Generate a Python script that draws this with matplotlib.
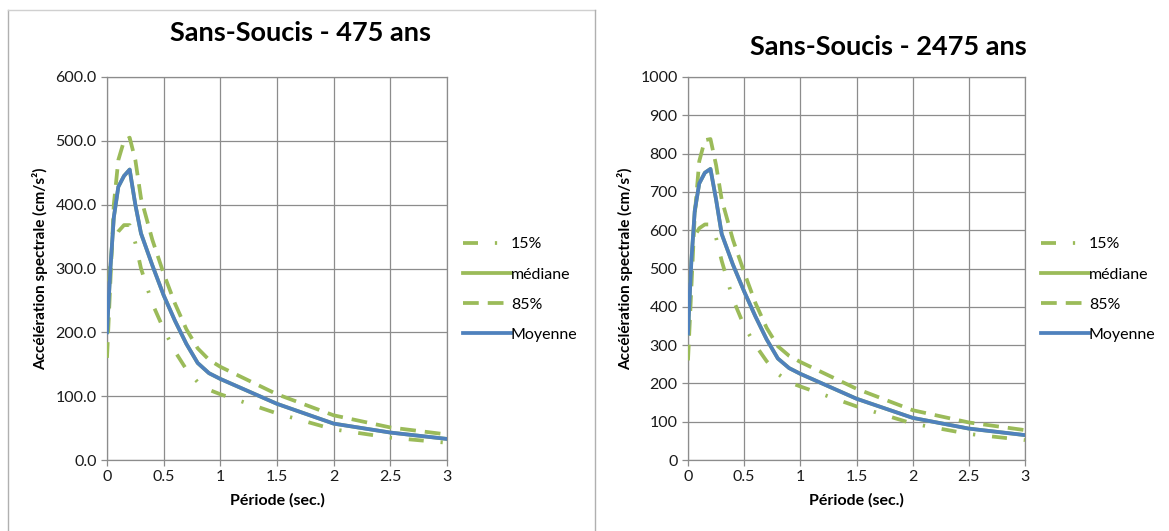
import matplotlib
matplotlib.use("Agg")
import matplotlib.pyplot as plt
from matplotlib.lines import Line2D

plt.rcParams['font.family'] = ['Lato', 'DejaVu Sans']

GREEN = '#9BBB59'
BLUE = '#4F81BD'
GRID = '#8c8c8c'

# ---- data: 475 ans ----
t_475 = [0.0, 0.03, 0.06, 0.1, 0.15, 0.2, 0.25, 0.3, 0.4, 0.5, 0.6, 0.7, 0.8, 0.9, 1.0, 1.5, 2.0, 2.5, 3.0]
moy_475 = [200, 300, 380, 428, 445, 455, 400, 355, 305, 258, 218, 182, 152, 136, 127, 88, 57, 43, 33]
med_475 = [200, 300, 380, 428, 445, 455, 400, 355, 305, 258, 218, 182, 152, 136, 127, 88, 57, 43, 33]
p85_475 = [160, 280, 400, 470, 500, 505, 470, 410, 345, 292, 245, 205, 175, 157, 146, 103, 70, 51, 40]
p15_475 = [200, 320, 345, 358, 368, 368, 340, 300, 245, 205, 170, 142, 122, 110, 103, 73, 48, 35, 27]

# ---- data: 2475 ans ----
t_2475 = [0.0, 0.03, 0.06, 0.1, 0.15, 0.2, 0.25, 0.3, 0.4, 0.5, 0.6, 0.7, 0.8, 0.9, 1.0, 1.5, 2.0, 2.5, 3.0]
moy_2475 = [330, 520, 650, 722, 750, 760, 680, 590, 510, 440, 375, 315, 265, 240, 225, 160, 110, 82, 65]
med_2475 = [330, 520, 650, 722, 750, 760, 680, 590, 510, 440, 375, 315, 265, 240, 225, 160, 110, 82, 65]
p85_2475 = [260, 450, 640, 780, 835, 838, 770, 680, 575, 490, 410, 345, 297, 272, 256, 186, 130, 98, 78]
p15_2475 = [330, 520, 585, 605, 615, 615, 580, 520, 420, 350, 300, 258, 225, 203, 192, 140, 95, 68, 52]

labels = ['15%', 'médiane', '85%', 'Moyenne']
x_ticks = [0, 0.5, 1, 1.5, 2, 2.5, 3]
x_ticklabels = ['0', '0.5', '1', '1.5', '2', '2.5', '3']

fig = plt.figure(figsize=(11.69, 5.31), dpi=100)

LW = 2.7
dash15 = (0, (4, 4.5, 0.6, 4.5))
dash85 = (0, (4.2, 2.4))


def panel(ax, t, p15, med, p85, moy, ymax, ystep, yfmt, title, title_x, title_y):
    ax.plot(t, med, color=GREEN, lw=LW, solid_capstyle='round', zorder=2)
    ax.plot(t, p15, color=GREEN, lw=LW, linestyle=dash15, zorder=3)
    ax.plot(t, p85, color=GREEN, lw=LW, linestyle=dash85, zorder=3)
    ax.plot(t, moy, color=BLUE, lw=LW, zorder=4)
    ax.set_xlim(0, 3)
    ax.set_ylim(0, ymax)
    ax.set_xticks(x_ticks)
    ax.set_xticklabels(x_ticklabels)
    yt = list(range(0, ymax + 1, ystep))
    ax.set_yticks(yt)
    ax.set_yticklabels([yfmt.format(v) for v in yt])
    ax.grid(True, color=GRID, lw=0.9)
    ax.set_axisbelow(True)
    for s in ax.spines.values():
        s.set_color(GRID)
        s.set_linewidth(0.9)
    ax.tick_params(axis='both', colors=GRID, labelcolor='#1a1a1a', labelsize=11.5,
                   length=4, width=0.9)
    ax.set_xlabel('Période (sec.)', fontsize=11.5, fontweight='bold', labelpad=6)
    ax.set_ylabel('Accélération spectrale (cm/s²)', fontsize=11, fontweight='bold', labelpad=5)
    fig.text(title_x, title_y, title,
             ha='center', va='center', fontsize=19.5, fontweight='bold')
    handles = [Line2D([], [], color=GREEN, lw=LW, linestyle=dash15),
               Line2D([], [], color=GREEN, lw=LW),
               Line2D([], [], color=GREEN, lw=LW, linestyle=dash85),
               Line2D([], [], color=BLUE, lw=LW)]
    ax.legend(handles, labels, loc='center left', bbox_to_anchor=(1.0, 0.445),
              frameon=False, fontsize=11.5, handlelength=3.0, handletextpad=0.0,
              labelspacing=1.0, borderaxespad=0.6)


ax1 = fig.add_axes([107 / 1169, 1 - 460 / 531, 340 / 1169, 383 / 531])
panel(ax1, t_475, p15_475, med_475, p85_475, moy_475, 600, 100, '{:.1f}',
      'Sans-Soucis - 475 ans', 300 / 1169, 1 - 33 / 531)

ax2 = fig.add_axes([688 / 1169, 1 - 460 / 531, 337 / 1169, 383 / 531])
panel(ax2, t_2475, p15_2475, med_2475, p85_2475, moy_2475, 1000, 100, '{:d}',
      'Sans-Soucis - 2475 ans', 888 / 1169, 1 - 47 / 531)

# panel frame lines
fig.add_artist(Line2D([8 / 1169, 8 / 1169], [0, 1 - 10 / 531], color='#b0b0b0', lw=1))
fig.add_artist(Line2D([8 / 1169, 595 / 1169], [1 - 10 / 531, 1 - 10 / 531], color='#d0d0d0', lw=1))
fig.add_artist(Line2D([595 / 1169, 595 / 1169], [0, 1 - 10 / 531], color='#b0b0b0', lw=1))

fig.savefig('out.png', dpi=100)
